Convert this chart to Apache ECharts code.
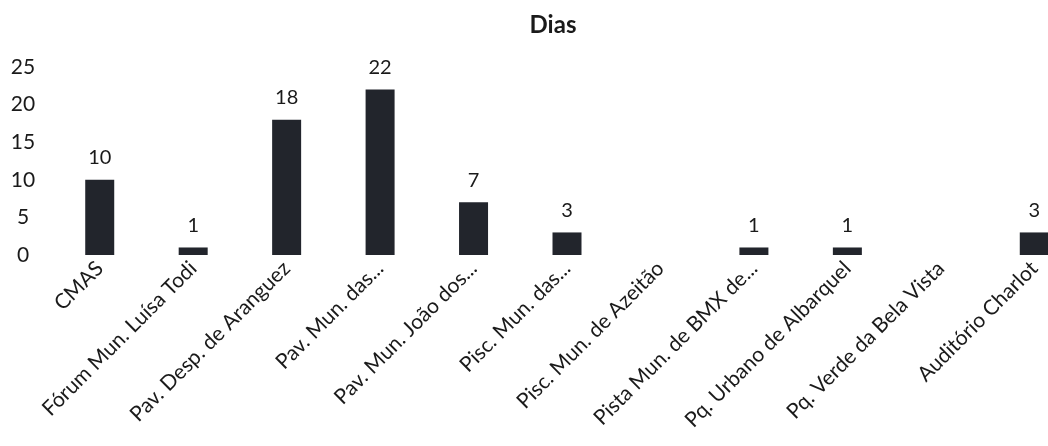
<!DOCTYPE html>
<html>
<head>
<meta charset="utf-8">
<script src="https://cdn.jsdelivr.net/npm/echarts@6/dist/echarts.min.js"></script>
<style>
html,body{margin:0;padding:0;background:#fff;}
#chart{width:1048px;height:446px;}
</style>
</head>
<body>
<div id="chart"></div>
<script>
const categories = ["CMAS","Fórum Mun. Luísa Todi","Pav. Desp. de Aranguez","Pav. Mun. das...","Pav. Mun. João dos...","Pisc. Mun. das...","Pisc. Mun. de Azeitão","Pista Mun. de BMX de...","Pq. Urbano de Albarquel","Pq. Verde da Bela Vista","Auditório Charlot"];
const dias = [10,1,18,22,7,3,null,1,1,null,3];
const yTicks = {min:0, max:25, interval:5};

const chart = echarts.init(document.getElementById('chart'));
chart.setOption({
  animation:false,
  backgroundColor:'#fff',
  title:{text:'Dias', left:548, top:8, textAlign:'center',
    textStyle:{fontFamily:'Lato', fontWeight:'bold', fontSize:24, color:'#1a1a1a'}},
  grid:{left:53, width:1028, top:67, height:188, containLabel:false, outerBoundsMode:'none'},
  xAxis:{type:'category', data:categories,
    axisLine:{show:false}, axisTick:{show:false},
    axisLabel:{rotate:45, interval:0, margin:10, fontFamily:'Lato', fontSize:21, color:'#1a1a1a'}},
  yAxis:{type:'value', min:yTicks.min, max:yTicks.max, interval:yTicks.interval,
    splitLine:{show:false}, axisLine:{show:false}, axisTick:{show:false},
    axisLabel:{margin:30, align:'center', fontFamily:'Lato', fontSize:21, color:'#1a1a1a'}},
  series:[{type:'bar', data:dias, barWidth:29,
    itemStyle:{color:'#22252c'},
    label:{show:true, position:'top', distance:12, fontFamily:'Lato', fontSize:20, color:'#1a1a1a'}}]
});
</script>
</body>
</html>
